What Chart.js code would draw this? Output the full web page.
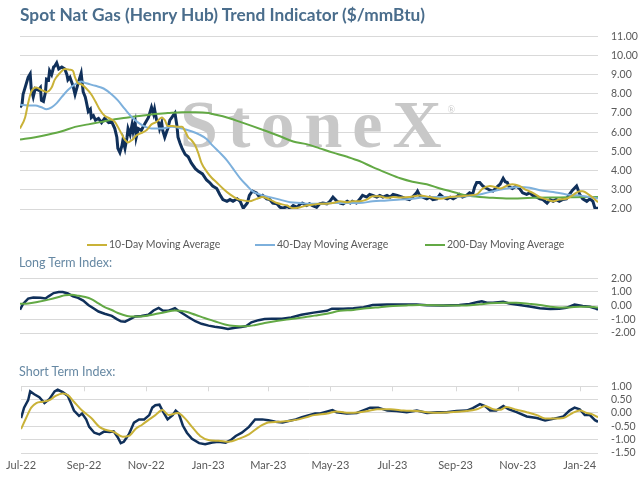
<!DOCTYPE html>
<html>
<head>
<meta charset="utf-8">
<script src="https://cdn.jsdelivr.net/npm/chart.js@4.4.0/dist/chart.umd.min.js"></script>
<style>
body{margin:0;background:#fff;width:643px;height:479px;position:relative;overflow:hidden;font-family:Lato,sans-serif}
canvas{position:absolute;left:0}
#title{position:absolute;left:20px;top:4px;font-weight:bold;font-size:17.3px;color:#4a6d8c;white-space:nowrap;z-index:2}
.sub{position:absolute;left:19px;font-size:12.5px;color:#6688a3;white-space:nowrap;z-index:2}
.leg{position:absolute;top:237px;height:14px;line-height:14px;font-size:10.5px;color:#595959;white-space:nowrap;z-index:2}
.leg i{display:inline-block;width:20px;height:2.5px;vertical-align:middle;margin-right:2px;margin-top:-1px}
</style>
</head>
<body>
<div id="title">Spot Nat Gas (Henry Hub) Trend Indicator ($/mmBtu)</div>
<canvas id="priceChart" width="643" height="222" style="top:17px"></canvas>
<div id="legend"></div>
<div class="sub" style="top:255px">Long Term Index:</div>
<canvas id="longChart" width="643" height="104" style="top:259px"></canvas>
<div class="sub" style="top:364px">Short Term Index:</div>
<canvas id="shortChart" width="643" height="112" style="top:367px"></canvas>
<script>
// x = days since 1 Jul 2022
var tickDays = [0, 62, 123, 184, 243, 304, 365, 427, 488, 549];
var tickLabels = ["Jul-22","Sep-22","Nov-22","Jan-23","Mar-23","May-23","Jul-23","Sep-23","Nov-23","Jan-24"];

// spot price ($/mmBtu)
var spotPrice = [[0,7.3],[2,7.45],[3,7.97],[8,8.86],[10,9.04],[11,8.28],[13,7.84],[15,8.28],[18,8.2],[20,8.33],[21,7.66],[23,7.6],[25,8.1],[26,8.77],[28,8.73],[29,9.2],[31,9.0],[33,9.4],[34,9.44],[36,9.62],[38,9.3],[41,9.4],[44,9.3],[46,9.0],[47,8.73],[49,8.86],[52,8.42],[54,7.97],[57,8.55],[60,9.08],[62,8.1],[64,7.84],[65,7.6],[67,7.08],[69,7.2],[70,6.77],[72,6.86],[74,6.63],[77,6.72],[80,6.5],[83,6.72],[87,6.5],[90,6.54],[93,6.19],[95,5.74],[96,5.16],[98,4.94],[100,5.3],[101,5.6],[103,5.16],[105,5.74],[106,6.19],[108,5.88],[110,6.41],[111,6.05],[113,6.5],[114,5.74],[116,6.19],[119,6.1],[123,6.5],[126,6.77],[129,7.3],[131,6.95],[132,7.2],[134,6.63],[136,6.5],[137,6.19],[139,6.5],[140,6.1],[142,5.74],[144,6.05],[145,6.19],[147,6.63],[149,6.77],[150,6.86],[152,7.0],[154,6.32],[155,5.74],[157,5.43],[159,5.16],[162,4.85],[165,4.72],[168,4.4],[172,4.1],[175,3.96],[179,3.83],[183,3.51],[186,3.38],[189,3.2],[193,3.07],[196,2.76],[199,2.49],[203,2.4],[206,2.49],[209,2.4],[213,2.53],[216,2.4],[219,2.04],[223,2.31],[225,2.71],[228,2.93],[232,2.84],[235,2.62],[238,2.71],[242,2.53],[245,2.49],[248,2.31],[252,2.27],[255,2.09],[258,2.04],[262,2.13],[265,2.04],[268,2.18],[272,2.09],[275,2.27],[277,2.31],[281,2.18],[284,2.27],[287,2.18],[291,2.09],[294,2.27],[297,2.31],[301,2.27],[304,2.4],[307,2.62],[311,2.4],[314,2.31],[317,2.27],[321,2.4],[324,2.31],[326,2.4],[330,2.31],[333,2.49],[336,2.71],[340,2.62],[343,2.76],[346,2.71],[350,2.62],[353,2.71],[356,2.62],[360,2.71],[363,2.62],[366,2.76],[370,2.71],[375,2.62],[379,2.53],[382,2.49],[385,2.62],[389,2.84],[390,2.93],[392,2.71],[395,2.62],[399,2.53],[402,2.62],[405,2.49],[409,2.53],[412,2.76],[415,2.62],[419,2.53],[422,2.62],[425,2.53],[428,2.62],[431,2.76],[434,2.62],[438,2.71],[441,2.84],[444,2.76],[446,3.15],[448,3.38],[451,3.38],[454,3.2],[458,3.07],[461,2.98],[464,2.93],[468,3.15],[471,3.29],[474,3.6],[476,3.42],[478,3.38],[480,3.15],[483,3.07],[487,3.2],[490,3.07],[493,2.84],[497,2.76],[500,2.84],[503,2.71],[507,2.62],[510,2.53],[513,2.49],[517,2.31],[520,2.49],[523,2.4],[526,2.49],[529,2.4],[532,2.49],[536,2.53],[539,2.76],[542,2.98],[546,3.2],[547,3.07],[549,2.76],[552,2.53],[556,2.4],[559,2.53],[562,2.4],[564,2.04],[567,2.04]];

var ma10 = [[0,6.19],[5,6.77],[8,7.52],[11,8.1],[16,8.33],[21,8.2],[26,8.1],[31,8.33],[34,8.73],[39,9.08],[44,9.3],[49,9.26],[52,9.2],[54,8.86],[57,8.55],[60,8.5],[65,8.28],[70,7.97],[74,7.6],[78,7.2],[83,6.86],[88,6.72],[93,6.54],[96,6.28],[100,5.88],[103,5.6],[106,5.47],[110,5.6],[114,5.83],[119,5.96],[124,6.1],[129,6.41],[134,6.54],[139,6.77],[142,6.63],[145,6.32],[150,6.32],[155,6.28],[159,6.28],[162,6.05],[165,5.74],[168,5.6],[172,5.3],[175,4.9],[178,4.4],[183,3.96],[188,3.63],[193,3.38],[199,3.07],[206,2.76],[213,2.53],[219,2.45],[225,2.4],[232,2.53],[238,2.62],[245,2.49],[252,2.31],[262,2.18],[268,2.04],[275,2.09],[281,2.18],[287,2.22],[294,2.27],[301,2.27],[307,2.31],[314,2.4],[321,2.35],[326,2.4],[333,2.4],[340,2.49],[346,2.66],[353,2.66],[360,2.58],[366,2.62],[373,2.6],[382,2.62],[392,2.71],[402,2.62],[412,2.53],[422,2.62],[431,2.66],[441,2.71],[448,2.76],[454,3.07],[461,3.2],[466,3.15],[471,3.07],[477,3.2],[483,3.29],[490,3.2],[497,2.98],[503,2.84],[510,2.62],[517,2.49],[523,2.4],[529,2.49],[536,2.53],[542,2.71],[549,2.93],[552,2.93],[559,2.71],[564,2.5],[567,2.35]];

var ma40 = [[0,7.43],[8,7.39],[15,7.39],[21,7.3],[26,7.2],[31,7.3],[36,7.52],[41,7.84],[47,8.2],[54,8.5],[60,8.64],[65,8.55],[74,8.42],[82,8.28],[90,7.97],[96,7.66],[103,7.2],[110,6.77],[116,6.5],[123,6.28],[129,6.19],[139,6.19],[149,6.28],[159,6.19],[168,6.05],[176,5.88],[183,5.65],[189,5.3],[196,4.94],[203,4.54],[209,4.1],[216,3.6],[223,3.2],[228,2.93],[235,2.76],[245,2.62],[255,2.49],[265,2.35],[275,2.31],[284,2.27],[294,2.27],[307,2.31],[321,2.31],[333,2.31],[346,2.4],[360,2.44],[373,2.5],[385,2.53],[399,2.62],[412,2.62],[425,2.62],[438,2.66],[451,2.76],[464,2.93],[477,3.07],[490,3.15],[500,3.11],[510,2.98],[523,2.89],[536,2.76],[549,2.71],[559,2.62],[567,2.55]];

var ma200 = [[0,5.62],[15,5.74],[28,5.88],[41,6.05],[54,6.28],[67,6.41],[80,6.54],[93,6.68],[106,6.77],[119,6.86],[132,6.95],[145,7.0],[159,7.04],[172,7.04],[185,7.0],[189,6.95],[203,6.77],[216,6.54],[228,6.32],[242,6.05],[255,5.79],[268,5.52],[281,5.38],[294,5.16],[307,4.94],[321,4.72],[333,4.5],[346,4.18],[360,3.87],[373,3.6],[385,3.42],[399,3.29],[412,3.07],[425,2.89],[438,2.71],[451,2.62],[464,2.58],[477,2.55],[503,2.58],[529,2.6],[556,2.62],[567,2.62]];

// long term index
var longIndex = [[0,-0.3],[3,0.13],[8,0.52],[13,0.6],[20,0.57],[25,0.52],[28,0.68],[33,0.92],[38,1.0],[42,1.0],[47,0.89],[52,0.68],[57,0.57],[62,0.37],[67,0.05],[72,-0.19],[77,-0.43],[83,-0.59],[90,-0.75],[95,-0.98],[99,-1.14],[103,-1.17],[108,-0.98],[113,-0.79],[119,-0.75],[126,-0.67],[131,-0.35],[136,-0.16],[140,-0.35],[145,-0.38],[149,-0.27],[152,-0.19],[155,-0.35],[160,-0.59],[165,-0.83],[172,-1.14],[178,-1.33],[185,-1.46],[191,-1.54],[198,-1.62],[204,-1.7],[211,-1.62],[217,-1.57],[222,-1.49],[227,-1.22],[234,-1.06],[240,-0.98],[247,-0.95],[257,-0.95],[266,-0.86],[276,-0.67],[288,-0.51],[301,-0.38],[306,-0.22],[317,-0.22],[327,-0.19],[337,-0.11],[346,0.05],[360,0.08],[373,0.08],[389,0.08],[399,0.03],[415,0.02],[431,0.05],[441,0.13],[448,0.25],[453,0.32],[458,0.21],[464,0.21],[474,0.29],[480,0.16],[490,0.05],[500,-0.06],[510,-0.19],[520,-0.24],[529,-0.22],[536,-0.16],[544,0.08],[552,-0.03],[559,-0.08],[564,-0.19],[567,-0.3]];
var longSignal = [[0,0.13],[8,0.16],[18,0.29],[28,0.44],[38,0.63],[44,0.76],[51,0.79],[57,0.73],[64,0.63],[70,0.48],[77,0.16],[83,-0.11],[90,-0.32],[96,-0.54],[105,-0.75],[113,-0.79],[123,-0.75],[132,-0.63],[142,-0.48],[152,-0.35],[162,-0.43],[172,-0.67],[181,-0.9],[191,-1.14],[201,-1.38],[211,-1.49],[221,-1.51],[230,-1.43],[240,-1.27],[253,-1.11],[266,-0.98],[279,-0.85],[289,-0.73],[301,-0.59],[314,-0.38],[327,-0.32],[340,-0.19],[353,-0.11],[366,-0.03],[379,0.02],[392,0.05],[422,0.02],[438,0.02],[451,0.1],[461,0.17],[474,0.21],[487,0.21],[500,0.13],[510,0.05],[520,-0.08],[529,-0.14],[539,-0.13],[549,-0.08],[559,-0.08],[567,-0.14]];

// short term index
var shortIndex = [[0,-0.19],[3,0.2],[7,0.48],[9,0.81],[13,0.7],[18,0.59],[23,0.37],[28,0.53],[33,0.81],[36,0.87],[41,0.78],[46,0.64],[49,0.37],[52,0.09],[57,-0.11],[60,-0.02],[64,-0.24],[67,-0.52],[72,-0.74],[77,-0.8],[82,-0.69],[87,-0.71],[91,-0.69],[95,-0.91],[98,-1.13],[101,-1.08],[106,-0.8],[111,-0.36],[116,-0.24],[121,-0.24],[126,-0.08],[129,0.2],[132,0.29],[136,0.31],[139,0.09],[144,-0.24],[149,-0.08],[152,0.09],[155,-0.02],[159,-0.47],[163,-0.74],[168,-0.97],[175,-1.13],[181,-1.17],[188,-1.11],[194,-1.08],[201,-1.11],[206,-1.02],[211,-0.86],[217,-0.74],[224,-0.52],[230,-0.24],[237,-0.24],[243,-0.27],[250,-0.33],[257,-0.36],[263,-0.3],[270,-0.24],[276,-0.16],[283,-0.08],[289,-0.02],[294,-0.02],[306,0.11],[310,0.03],[320,-0.02],[330,0.0],[337,0.11],[343,0.2],[351,0.2],[360,0.09],[369,0.07],[379,0.03],[389,0.09],[399,0.0],[409,0.03],[418,0.03],[428,0.07],[438,0.09],[444,0.18],[451,0.33],[456,0.26],[461,0.09],[467,0.09],[474,0.26],[479,0.14],[487,0.03],[497,-0.13],[507,-0.19],[515,-0.28],[523,-0.22],[533,-0.13],[539,0.09],[544,0.2],[549,0.14],[554,-0.08],[559,-0.08],[564,-0.27],[567,-0.33]];
var shortSignal = [[0,-0.6],[5,-0.19],[10,0.2],[15,0.37],[21,0.42],[28,0.48],[34,0.64],[41,0.73],[46,0.67],[52,0.42],[60,0.09],[69,-0.19],[77,-0.52],[83,-0.63],[91,-0.71],[100,-0.89],[106,-0.86],[113,-0.58],[119,-0.44],[126,-0.24],[132,-0.08],[139,0.11],[145,-0.08],[154,0.0],[162,-0.24],[168,-0.52],[176,-0.86],[185,-1.02],[194,-1.04],[204,-1.08],[214,-0.97],[224,-0.8],[234,-0.52],[243,-0.36],[253,-0.33],[263,-0.3],[273,-0.24],[283,-0.13],[288,-0.08],[301,-0.02],[310,0.06],[320,0.01],[333,0.03],[343,0.09],[350,0.14],[363,0.14],[376,0.09],[389,0.07],[405,0.01],[422,0.03],[438,0.07],[448,0.14],[456,0.26],[464,0.14],[471,0.12],[477,0.22],[487,0.12],[497,0.03],[507,-0.08],[515,-0.21],[523,-0.21],[533,-0.19],[542,0.0],[549,0.09],[556,0.0],[562,-0.06],[567,-0.16]];

var NAVY = "#10305a", GOLD = "#c9b238", BLUE = "#7db0dc", GREEN = "#63a945";
var gridColor = "#d9d9d9", textColor = "#595959";

function pts(arr) {
    return arr.map(function(p){ return {x: p[0], y: p[1]}; });
}

function line(label, arr, color, width, order, smooth) {
    return {
        label: label,
        data: pts(arr),
        borderColor: color,
        backgroundColor: color,
        borderWidth: width,
        pointRadius: 0,
        order: order,
        cubicInterpolationMode: smooth ? "monotone" : "default",
        tension: 0
    };
}

function xAxis(show) {
    return {
        type: "linear",
        min: 0,
        max: 567,
        display: show,
        grid: { display: false, drawTicks: false },
        border: { display: false },
        afterBuildTicks: function(s){ s.ticks = tickDays.map(function(d){ return {value: d}; }); },
        afterFit: function(s){ s.height = 20; },
        ticks: {
            autoSkip: false,
            maxRotation: 0,
            padding: 6,
            color: textColor,
            font: { family: "Lato", size: 11 },
            callback: function(v){ return tickLabels[tickDays.indexOf(v)]; }
        }
    };
}

function yAxis(min, max, step) {
    return {
        position: "right",
        min: min,
        max: max,
        grid: { color: gridColor, lineWidth: 1, drawTicks: false },
        border: { display: false },
        afterFit: function(s){ s.width = 45; },
        ticks: {
            stepSize: step,
            autoSkip: false,
            padding: 13,
            color: textColor,
            font: { family: "Lato", size: 10.5 },
            callback: function(v){ return v.toFixed(2); }
        }
    };
}

function baseOptions(x, y, pad) {
    return {
        responsive: false,
        animation: false,
        events: [],
        layout: { padding: pad },
        plugins: { legend: { display: false }, tooltip: { enabled: false } },
        scales: { x: x, y: y }
    };
}

// StoneX watermark behind the price lines
var watermark = {
    id: "watermark",
    beforeDatasetsDraw: function(chart) {
        var ctx = chart.ctx, x = 180, base = 130;
        ctx.save();
        ctx.fillStyle = "#c8c8c8";
        ctx.font = "bold 68px 'Liberation Serif'";
        "StoneX".split("").forEach(function(ch){
            ctx.fillText(ch, x, base);
            x += ctx.measureText(ch).width + 10;
        });
        ctx.font = "10px 'Liberation Serif'";
        ctx.fillText("\u00ae", x - 4, base - 34);
        ctx.restore();
    }
};

// little month tick marks hanging from the top of the short term panel
var topTicks = {
    id: "topTicks",
    afterDatasetsDraw: function(chart) {
        var ctx = chart.ctx, area = chart.chartArea, xs = chart.scales.x;
        ctx.save();
        ctx.strokeStyle = gridColor;
        ctx.lineWidth = 1;
        tickDays.forEach(function(d){
            var px = Math.round(xs.getPixelForValue(d)) + 0.5;
            ctx.beginPath();
            ctx.moveTo(px, area.top);
            ctx.lineTo(px, area.top + 5);
            ctx.stroke();
        });
        ctx.restore();
    }
};

var priceChart = new Chart(document.getElementById("priceChart"), {
    type: "line",
    data: {
        datasets: [
            line("Spot", spotPrice, NAVY, 3, 4, false),
            line("10-Day Moving Average", ma10, GOLD, 2, 1, true),
            line("40-Day Moving Average", ma40, BLUE, 2, 2, true),
            line("200-Day Moving Average", ma200, GREEN, 2, 3, true)
        ]
    },
    options: baseOptions(xAxis(false), yAxis(2, 11, 1), {left: 20, right: 0, top: 10, bottom: 10}),
    plugins: [watermark]
});

new Chart(document.getElementById("longChart"), {
    type: "line",
    data: {
        datasets: [
            line("Long Term Index", longIndex, NAVY, 2.5, 2, false),
            line("Long Term Signal", longSignal, GREEN, 2, 1, true)
        ]
    },
    options: baseOptions(xAxis(false), yAxis(-2, 2, 1), {left: 20, right: 0, top: 10, bottom: 10})
});

new Chart(document.getElementById("shortChart"), {
    type: "line",
    data: {
        datasets: [
            line("Short Term Index", shortIndex, NAVY, 2.5, 2, false),
            line("Short Term Signal", shortSignal, GOLD, 2, 1, true)
        ]
    },
    options: baseOptions(xAxis(true), yAxis(-1.5, 1, 0.5), {left: 20, right: 0, top: 10, bottom: 6}),
    plugins: [topTicks]
});

// legend for the moving averages
var legendLeft = [87, 255, 425];
var legendBox = document.getElementById("legend");
priceChart.data.datasets.slice(1).forEach(function(ds, i){
    var d = document.createElement("div");
    d.className = "leg";
    d.style.left = legendLeft[i] + "px";
    d.innerHTML = '<i style="background:' + ds.borderColor + '"></i>' + ds.label;
    legendBox.appendChild(d);
});
</script>
</body>
</html>
